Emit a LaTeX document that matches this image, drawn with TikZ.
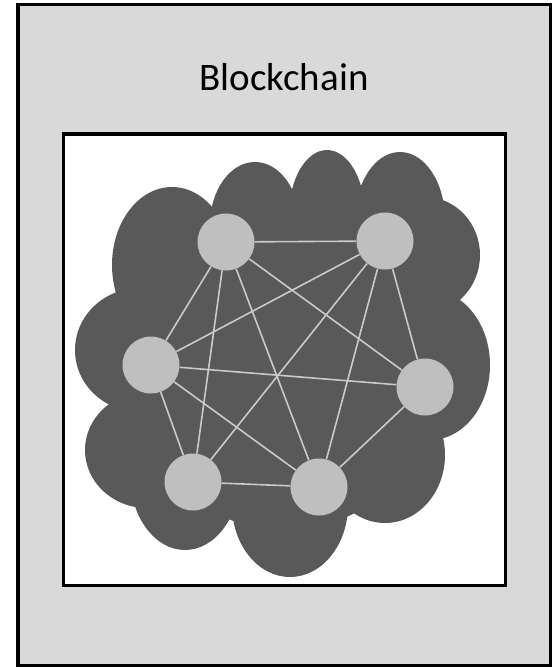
\documentclass[tikz,border=0pt]{standalone}
\usepackage{fontspec}
\setmainfont{Carlito}
\usepackage{xcolor}
\usepackage{tikz}
\usetikzlibrary{shapes.geometric}
\definecolor{panelgray}{HTML}{D9D9D9}
\definecolor{cloudgray}{HTML}{595959}
\definecolor{peergray}{HTML}{BFBFBF}
\definecolor{linkgray}{HTML}{CACACA}
\tikzstyle{frame} = [draw=black, line width=3.5pt]
\tikzstyle{puff} = [fill=cloudgray]
\tikzstyle{peer} = [circle, minimum size=57pt, inner sep=0pt, fill=peergray]
\tikzstyle{link} = [draw=linkgray, line width=1.6pt]

\begin{document}
\begin{tikzpicture}[x=1pt, y=-1pt]

   \useasboundingbox (0,0) rectangle (553,667);
   \draw [frame, fill=panelgray] (18,4.5) rectangle (550.5,665.5);
   \draw [frame, fill=white] (63.5,134) rectangle (505.5,585.7);

   \node (title) [anchor=base] at (284,90.5) {\fontsize{39}{42}\selectfont Blockchain};

   \fill [puff] (285,360) ellipse (160 and 170);
   \fill [puff] (172,265) ellipse (60 and 78);
   \fill [puff] (255,225) ellipse (45 and 63);
   \fill [puff] (327,215) ellipse (38 and 65);
   \fill [puff] (400,220) ellipse (45 and 68);
   \fill [puff] (425,255) ellipse (55 and 58);
   \fill [puff] (430,365) ellipse (60 and 75);
   \fill [puff] (385,455) ellipse (60 and 68);
   \fill [puff] (290,505) ellipse (58 and 72);
   \fill [puff] (185,475) ellipse (55 and 75);
   \fill [puff] (147,450) ellipse (62 and 58);
   \fill [puff] (140,350) ellipse (65 and 62);

   \node (p1) [peer] at (226,242) {};
   \node (p2) [peer] at (385,241) {};
   \node (p3) [peer] at (151,365) {};
   \node (p4) [peer] at (425,387) {};
   \node (p5) [peer] at (193,482) {};
   \node (p6) [peer] at (319,487) {};

   \path [link] (p1) -- (p2);
   \path [link] (p1) -- (p3);
   \path [link] (p1) -- (p4);
   \path [link] (p1) -- (p5);
   \path [link] (p1) -- (p6);
   \path [link] (p2) -- (p3);
   \path [link] (p2) -- (p4);
   \path [link] (p2) -- (p5);
   \path [link] (p2) -- (p6);
   \path [link] (p3) -- (p4);
   \path [link] (p3) -- (p5);
   \path [link] (p3) -- (p6);
   \path [link] (p4) -- (p6);
   \path [link] (p5) -- (p6);
\end{tikzpicture}
\end{document}
